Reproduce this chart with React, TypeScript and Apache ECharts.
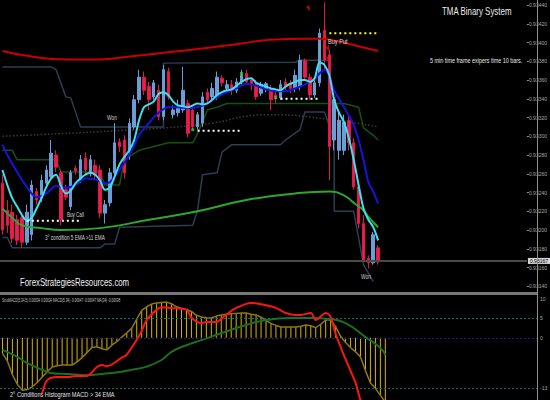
import React, { useEffect, useRef } from "react";
import * as echarts from "echarts";

// ---------- axis / slots ----------
const SLOT_COUNT = 108;
const slotLabels: string[] = Array.from({ length: SLOT_COUNT }, (_, i) => `b${i}`);
const priceMin = 93140; // pipettes (0.93140)
const priceMax = 93440;
const priceStep = 20;
const lastPrice = 93167;

// ---------- candles: [open, close, low, high] in pipettes ----------
const candles: number[][] = [
  [93250, 93200, 93195, 93259], [93221, 93205, 93197, 93232], [93219, 93191, 93186, 93227],
  [93211, 93189, 93184, 93216], [93213, 93187, 93181, 93219], [93187, 93219, 93184, 93227],
  [93195, 93248, 93189, 93253], [93241, 93232, 93227, 93245], [93234, 93253, 93230, 93259],
  [93250, 93264, 93246, 93269], [93257, 93282, 93253, 93296], [93280, 93267, 93262, 93285],
  [93261, 93211, 93205, 93264], [93243, 93235, 93232, 93248], [93225, 93261, 93221, 93264],
  [93266, 93263, 93259, 93269], [93253, 93275, 93250, 93280], [93277, 93264, 93259, 93283],
  [93262, 93275, 93257, 93280], [93269, 93259, 93253, 93275], [93264, 93218, 93213, 93269],
  [93218, 93227, 93207, 93232], [93229, 93261, 93225, 93266], [93261, 93293, 93257, 93314],
  [93294, 93289, 93283, 93298], [93296, 93261, 93255, 93301], [93285, 93314, 93275, 93319],
  [93310, 93339, 93307, 93344], [93339, 93363, 93335, 93371], [93363, 93349, 93344, 93369],
  [93353, 93339, 93328, 93358], [93342, 93357, 93339, 93360], [93349, 93321, 93317, 93355],
  [93321, 93371, 93317, 93376], [93369, 93342, 93339, 93373], [93323, 93328, 93319, 93333],
  [93325, 93330, 93321, 93339], [93328, 93349, 93325, 93374], [93335, 93303, 93299, 93339],
  [93328, 93310, 93307, 93333], [93310, 93323, 93307, 93326], [93314, 93342, 93310, 93347],
  [93347, 93339, 93335, 93351], [93342, 93351, 93339, 93357], [93342, 93363, 93339, 93369],
  [93362, 93357, 93353, 93365], [93351, 93355, 93347, 93360], [93355, 93349, 93344, 93360],
  [93349, 93358, 93346, 93362], [93358, 93365, 93355, 93371], [93367, 93358, 93355, 93371],
  [93360, 93355, 93349, 93363], [93355, 93342, 93339, 93360], [93346, 93355, 93343, 93358],
  [93351, 93356, 93347, 93358], [93351, 93339, 93328, 93355], [93344, 93341, 93335, 93349],
  [93341, 93355, 93339, 93360], [93358, 93354, 93349, 93362], [93356, 93351, 93346, 93360],
  [93351, 93365, 93347, 93371], [93353, 93381, 93349, 93387], [93381, 93363, 93360, 93383],
  [93363, 93344, 93339, 93367], [93344, 93357, 93341, 93362], [93357, 93410, 93353, 93415],
  [93413, 93381, 93371, 93443], [93387, 93289, 93253, 93392], [93296, 93339, 93285, 93344],
  [93285, 93317, 93275, 93328], [93285, 93315, 93280, 93323], [93317, 93293, 93285, 93323],
  [93293, 93246, 93243, 93298], [93246, 93207, 93202, 93250], [93207, 93168, 93166, 93216],
  [93170, 93165, 93159, 93173], [93165, 93195, 93163, 93198], [93181, 93166, 93163, 93184],
];

// ---------- overlays (bar index, price) ----------
const tmaUpper: number[][] = [
  [0, 93391], [6, 93385], [13, 93382], [20, 93382], [26, 93385], [33, 93389], [40, 93393],
  [49, 93399], [55, 93403], [62, 93404], [65, 93404], [69, 93401], [73, 93396], [77, 93391],
];
const tmaMiddle: number[][] = [
  [0, 93300], [20, 93305], [40, 93312], [55, 93323], [67, 93318], [77, 93310],
];
const tmaLower: number[][] = [
  [0, 93223], [2, 93213], [4, 93205], [8, 93202], [12, 93200], [20, 93202], [30, 93211],
  [40, 93220], [50, 93232], [60, 93239], [67, 93241], [70, 93237], [72, 93229], [74, 93221],
  [75, 93214], [77, 93203],
];
const ema5: number[] = [
  93264, 93248, 93234, 93225, 93216, 93210, 93213, 93223, 93234, 93246,
  93255, 93259, 93247, 93239, 93242, 93250, 93255, 93259, 93261, 93259,
  93253, 93243, 93245, 93257, 93270, 93278, 93285, 93296, 93317, 93331,
  93334, 93337, 93345, 93347, 93344, 93337, 93333, 93332, 93331, 93333,
  93335, 93334, 93335, 93339, 93344, 93347, 93349, 93350, 93354, 93358,
  93361, 93362, 93357, 93355, 93353, 93351, 93350, 93349, 93353, 93356,
  93358, 93360, 93360, 93358, 93362, 93379, 93376, 93365, 93339, 93325,
  93315, 93298, 93275, 93248, 93223, 93211, 93203, 93189,
];
const ema11: number[][] = [
  [0, 93291], [1, 93280], [3, 93262], [5, 93246], [7, 93235], [9, 93239], [11, 93247],
  [13, 93245], [15, 93248], [17, 93255], [19, 93254], [21, 93250], [22, 93251], [24, 93264],
  [26, 93280], [28, 93301], [30, 93314], [32, 93325], [34, 93331], [36, 93331], [38, 93330],
  [40, 93331], [42, 93335], [44, 93342], [46, 93347], [48, 93351], [50, 93356], [52, 93354],
  [54, 93350], [56, 93348], [58, 93348], [60, 93351], [62, 93355], [64, 93361], [65, 93367],
  [66, 93371], [67, 93364], [68, 93349], [70, 93331], [72, 93312], [73, 93296], [74, 93275],
  [75, 93251], [76, 93241], [77, 93228],
];
const channelHigh: number[][] = [
  [0, 93374], [10, 93374], [11, 93371], [13, 93342], [14, 93341], [16, 93310], [33, 93310],
  [33, 93378], [60, 93379], [61, 93381], [67, 93381], [68, 93296],
];
const channelLow: number[][] = [
  [0, 93192], [1, 93192], [2, 93181], [20, 93181], [21, 93185], [23, 93185], [24, 93203],
  [39, 93205], [40, 93221], [41, 93259], [44, 93261], [45, 93283], [47, 93291], [57, 93291],
  [58, 93296], [61, 93307], [62, 93326], [66, 93326], [68, 93296], [68, 93220], [72, 93220],
  [74, 93163], [76, 93145],
];
const keltner: number[][] = [
  [0, 93285], [2, 93285], [3, 93275], [11, 93275], [12, 93262], [20, 93262], [21, 93248],
  [24, 93248], [25, 93275], [28, 93285], [34, 93293], [39, 93293], [40, 93303], [42, 93328],
  [44, 93331], [46, 93335], [70, 93335], [73, 93331], [74, 93309], [76, 93301], [77, 93296],
];
const buyCallLevel: number[][] = [[5, 93210], [16, 93210]];
const callLevel2: number[][] = [[40, 93306], [49, 93306]];
const callLevel3: number[][] = [[57, 93340], [65, 93340]];
const putLevel: number[][] = [[67, 93410], [77, 93410]];
const greenSignals: number[][] = [[39, 93307], [49, 93367], [56, 93341]];
const redArrows: number[][] = [[63, 93433], [67, 93390], [67, 93379]];

// ---------- lower pane (MACD histogram) ----------
const histogram: number[] = [
  -4, -6, -9.5, -12, -13.5, -13.3, -12.6, -11.5, -10.1, -8.7,
  -7.5, -7.2, -7, -7, -7, -6.2, -5.1, -3.8, -2.5, -2.3,
  -2.8, -3.1, -1.9, -1, 0.2, 1.3, 2.5, 4.8, 7.1, 8,
  8.7, 9, 9.1, 9.2, 8.8, 8, 7.6, 7.3, 6.8, 5.8,
  5.4, 5.2, 5.1, 5.6, 5.9, 6.1, 6.2, 6.3, 6.4, 6.4,
  6.1, 5.9, 5.3, 4.5, 3.7, 3.2, 2.8, 2.8, 2.8, 2.8,
  3, 3.3, 3.1, 2.6, 3.5, 4.6, 4.6, 2.9, 0.4, -1.2,
  -2.5, -3.6, -4.9, -8.5, -11.6, -13, -14.8, -16.5,
];
const macdLine: number[][] = [
  [8, -14.2], [9, -10.9], [11, -10.1], [13, -10.1], [15, -9.8], [17, -9.8], [19, -7.5],
  [20, -7], [21, -7.3], [24, -5.1], [25, -4.3], [27, -0.5], [28, 1.8], [29, 4.6], [31, 7.2],
  [32, 7.9], [34, 7.7], [37, 7.2], [38, 5.2], [40, 3.8], [41, 4.1], [43, 4.1], [45, 6],
  [47, 7.7], [50, 9], [53, 8.4], [55, 7.7], [57, 6.4], [59, 5.9], [60, 5.9], [62, 6.4],
  [63, 4.6], [65, 6.4], [66, 5.4], [67, 1], [69, -5.5], [71, -11.6], [72, -16], [73, -19],
];
const ema34: number[][] = [
  [0, -3.1], [3, -4.9], [5, -6.5], [8, -8.2], [10, -9.1], [13, -9.3], [17, -9.6], [20, -9.3],
  [24, -8.7], [26, -8.2], [29, -7.4], [32, -5.7], [34, -3.6], [37, -1.9], [40, -0.6],
  [44, 1.2], [49, 3.3], [53, 4.6], [58, 5.1], [62, 5.1], [66, 4.8], [69, 3.8], [73, 0.2],
  [76, -2.6], [77, -4.4],
];
const oscMin = -16;
const oscMax = 10;
const oscLevels: number[] = [10, 5, 0, -13];

const FONT = "'Liberation Sans', Arial, sans-serif";

function txt(text: string, x: number, y: number, size: number, sx: number, fill = "#e6e6e6") {
  return {
    type: "text",
    x,
    y,
    scaleX: sx,
    silent: true,
    z: 50,
    style: {
      text,
      fill,
      fontSize: size,
      fontFamily: FONT,
      textAlign: "left",
      textVerticalAlign: "top",
      align: "left",
      verticalAlign: "top",
    },
  };
}

function levelLine(name: string, data: number[][], color: string) {
  return {
    name,
    type: "line",
    xAxisIndex: 0,
    yAxisIndex: 0,
    data,
    symbol: "none",
    silent: true,
    z: 6,
    lineStyle: { color, width: 2, type: [2, 3] },
  };
}

function overlay(name: string, data: any[], color: string, width: number, smooth: any, z = 4, type: any = "solid") {
  return {
    name,
    type: "line",
    xAxisIndex: 0,
    yAxisIndex: 0,
    data,
    symbol: "none",
    silent: true,
    smooth,
    z,
    lineStyle: { color, width, type },
  };
}

export default function App() {
  const ref = useRef<HTMLDivElement>(null);

  useEffect(() => {
    document.body.style.margin = "0";
    document.body.style.background = "#000";
    if (!ref.current) return;
    const chart = echarts.init(ref.current, undefined, { renderer: "svg" });

    const option: any = {
      animation: false,
      backgroundColor: "#000",
      grid: [
        { left: 0, right: 13, top: 5, height: 281.25 },
        { left: 0, right: 13, top: 299, height: 101 },
      ],
      xAxis: [
        { type: "category", gridIndex: 0, data: slotLabels, show: false, boundaryGap: true },
        { type: "category", gridIndex: 1, data: slotLabels, show: false, boundaryGap: true },
      ],
      yAxis: [
        {
          type: "value",
          gridIndex: 0,
          position: "right",
          min: priceMin,
          max: priceMax,
          interval: priceStep,
          splitLine: { show: false },
          axisLine: { show: false },
          axisTick: { show: true, length: 2, lineStyle: { color: "#8a8a8a" } },
          axisLabel: {
            margin: 2,
            fontSize: 5,
            color: "#a8a8a8",
            fontFamily: FONT,
            formatter: (v: number) => (v / 100000).toFixed(5),
          },
        },
        {
          type: "value",
          gridIndex: 1,
          position: "right",
          min: oscMin,
          max: oscMax,
          show: false,
        },
      ],
      series: [
        overlay("Channel high", channelHigh, "#2b3e52", 1.5, false, 1),
        overlay("Channel low", channelLow, "#2b3e52", 1.5, false, 1),
        overlay("Keltner", keltner, "#145214", 1.5, false, 1),
        overlay("TMA middle", tmaMiddle, "#3c3c3c", 1.5, true, 1, [1.5, 2]),
        {
          name: "Price",
          type: "candlestick",
          xAxisIndex: 0,
          yAxisIndex: 0,
          data: candles,
          barWidth: 3,
          clip: false,
          silent: true,
          z: 3,
          itemStyle: {
            color: "#6b9dd6",
            color0: "#ec1c4e",
            borderColor: "#6b9dd6",
            borderColor0: "#e0184a",
            borderWidth: 1,
          },
          markLine: {
            silent: true,
            symbol: "none",
            data: [{ yAxis: lastPrice }],
            lineStyle: { color: "#4a4a4a", width: 2, type: "solid" },
            label: {
              position: "end",
              distance: 1,
              fontSize: 5,
              color: "#000",
              backgroundColor: "#d6d6d6",
              padding: [1, 2, 0, 2],
              fontFamily: FONT,
              formatter: (p: any) => (p.value / 100000).toFixed(5),
            },
          },
        },
        overlay("TMA upper", tmaUpper, "#c80000", 2, true, 4),
        overlay("TMA lower", tmaLower, "#2da82d", 2, true, 4),
        overlay("EMA 11", ema11, "#1515d8", 2, 0.3, 5),
        overlay("EMA 5", ema5, "#3ee0ea", 2, 0.3, 5),
        levelLine("Buy Call level", buyCallLevel, "#ffffff"),
        levelLine("Call level 2", callLevel2, "#ffffff"),
        levelLine("Call level 3", callLevel3, "#ffffff"),
        levelLine("Put level", putLevel, "#ffff00"),
        {
          name: "Signals",
          type: "scatter",
          xAxisIndex: 0,
          yAxisIndex: 0,
          data: greenSignals,
          symbol: "rect",
          symbolSize: 3,
          silent: true,
          z: 7,
          itemStyle: { color: "#22dd22" },
        },
        {
          name: "Put arrows",
          type: "scatter",
          xAxisIndex: 0,
          yAxisIndex: 0,
          data: redArrows,
          symbol: "arrow",
          symbolRotate: 200,
          symbolSize: [3, 7],
          silent: true,
          z: 7,
          itemStyle: { color: "#ee1111" },
        },
        // lower pane
        {
          name: "Histogram",
          type: "bar",
          xAxisIndex: 1,
          yAxisIndex: 1,
          data: histogram,
          barWidth: 1,
          silent: true,
          z: 2,
          itemStyle: { color: "#d6b400" },
          markLine: {
            silent: true,
            symbol: "none",
            data: oscLevels.map((v) => ({
              yAxis: v,
              lineStyle: {
                color: v === 0 ? "#1c1c8a" : v === 10 ? "rgba(0,0,0,0)" : "#146c6c",
                width: 1,
                type: [2, 2],
              },
            })),
            label: {
              position: "end",
              distance: 3,
              fontSize: 5,
              color: "#a8a8a8",
              fontFamily: FONT,
              formatter: (p: any) => `${p.value}`,
            },
          },
        },
        {
          name: "Histogram outline",
          type: "line",
          xAxisIndex: 1,
          yAxisIndex: 1,
          data: histogram,
          symbol: "none",
          silent: true,
          z: 3,
          lineStyle: { color: "#8c7810", width: 1.5 },
        },
        {
          name: "34 EMA",
          type: "line",
          xAxisIndex: 1,
          yAxisIndex: 1,
          data: ema34,
          symbol: "none",
          smooth: true,
          silent: true,
          z: 4,
          lineStyle: { color: "#1d6e1d", width: 2 },
        },
        {
          name: "MACD",
          type: "line",
          xAxisIndex: 1,
          yAxisIndex: 1,
          data: macdLine,
          symbol: "none",
          smooth: 0.3,
          silent: true,
          z: 5,
          lineStyle: { color: "#ff1414", width: 2 },
        },
      ],
      graphic: [
        {
          type: "line",
          silent: true,
          z: 40,
          shape: { x1: 537.5, y1: 0, x2: 537.5, y2: 400 },
          style: { stroke: "#8e8e8e", lineWidth: 1 },
        },
        {
          type: "rect",
          silent: true,
          z: 40,
          shape: { x: 0, y: 292, width: 537, height: 3 },
          style: { fill: "#777777" },
        },
        txt("TMA Binary System", 442, 5, 11, 0.72, "#ececec"),
        txt("5 min time frame exipers time 10 bars.", 430, 56, 8, 0.68, "#e6e6e6"),
        txt("Won", 107, 114, 7, 0.7, "#cfcfcf"),
        txt("Buy Call", 67, 211, 7, 0.65, "#d8d8d8"),
        txt("3° condition 5 EMA >11 EMA", 45, 234, 7, 0.67, "#d8d8d8"),
        txt("Buy Put", 328, 37, 8, 0.7, "#d8d8d8"),
        txt("Won", 361, 273, 7, 0.7, "#cfcfcf"),
        txt("ForexStrategiesResources.com", 20, 276, 11, 0.71, "#f2f2f2"),
        txt("SmoMACD(5,34,5) 0.00034 0.00024 MACD(5,34) -0.00047 -0.00047 MA(34) -0.00038", 2, 298, 5, 0.62, "#c8c8c8"),
        txt("2° Conditions Histogram MACD > 34 EMA", 10, 390, 8, 0.7, "#e0e0e0"),
      ],
    };

    chart.setOption(option);
    return () => chart.dispose();
  }, []);

  return (
    <div
      ref={ref}
      style={{ position: "fixed", left: 0, top: 0, width: 550, height: 400, background: "#000" }}
    />
  );
}
